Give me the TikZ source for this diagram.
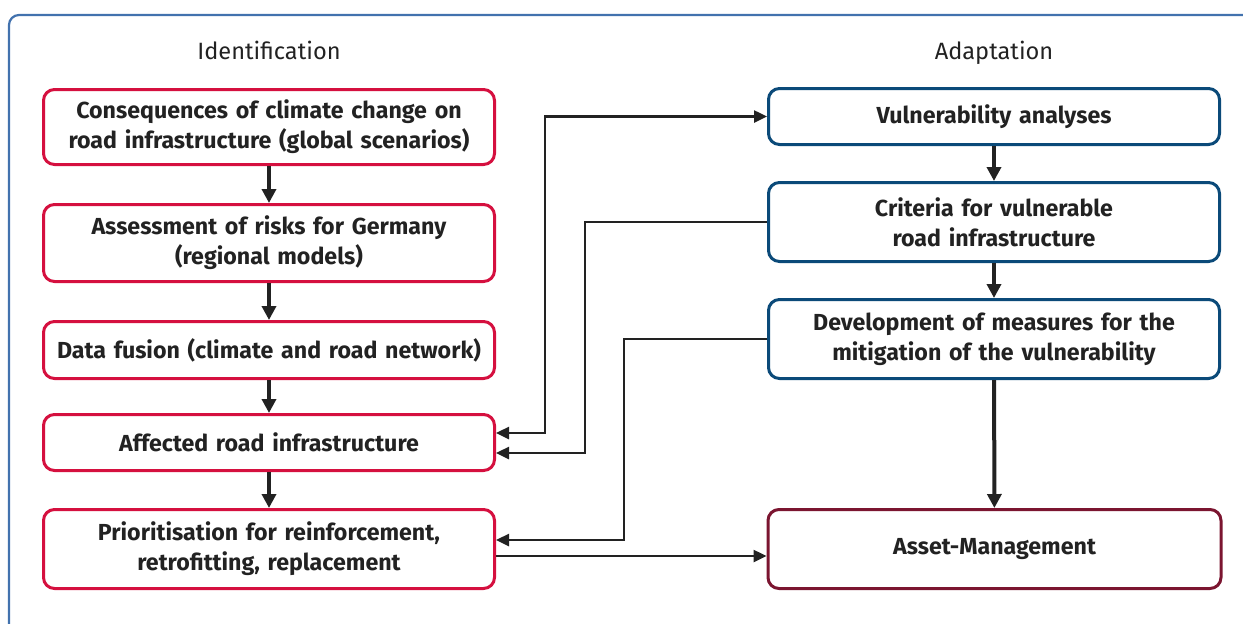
\documentclass[tikz,border=0pt]{standalone}
\usepackage{fontspec}
\setmainfont{Fira Sans}
\usetikzlibrary{arrows.meta}
\definecolor{FlowRed}{HTML}{D5103F}
\definecolor{FlowBlue}{HTML}{0B4A79}
\definecolor{FlowWine}{HTML}{7B1530}
\definecolor{FlowFrame}{HTML}{4272AE}
\definecolor{FlowInk}{HTML}{222222}
\tikzset{
    flow/diagram/.style={
        x=0.5pt, y=-0.5pt,
        text=FlowInk,
        line join=miter,
        every node/.style={inner sep=2pt}
    },
    flow/frame/.style={draw=FlowFrame, line width=1.1pt, rounded corners=5pt},
    flow/heading/.style={anchor=base, font=\fontsize{11.8}{13}\selectfont},
    flow/stage/.style={
        draw, fill=white, line width=1.5pt, rounded corners=5.5pt,
        minimum width=225.5pt, text width=220pt, align=center,
        font=\fontsize{11.6}{15}\selectfont\bfseries
    },
    flow/ident/.style={flow/stage, draw=FlowRed},
    flow/adapt/.style={flow/stage, draw=FlowBlue},
    flow/asset/.style={flow/stage, draw=FlowWine},
    flow/next/.style={
        draw=FlowInk, line width=2pt,
        -{Triangle[length=7pt, width=7pt]}
    },
    flow/link/.style={
        draw=FlowInk, line width=1.25pt,
        -{Triangle[length=6.5pt, width=6pt]}
    },
    flow/twoway/.style={
        flow/link,
        {Triangle[length=6.5pt, width=6pt]}-{Triangle[length=6.5pt, width=6pt]}
    }
}
\begin{document}
\begin{tikzpicture}[flow/diagram]
    \useasboundingbox (0,0) rectangle (1243,623);
    \begin{scope}
        \clip (0,0) rectangle (1243,623);
        \draw[flow/frame] (9,15) rectangle (1270,650);
    \end{scope}

    \node[flow/heading] (identHead) at (269,59) {Identification};
    \node[flow/heading] (adaptHead) at (994,59) {Adaptation};

    \node[flow/ident, minimum height=37.5pt] (conseq) at (269,127)
        {Consequences of climate change on\\road infrastructure (global scenarios)};
    \node[flow/ident, minimum height=38.5pt] (risks) at (269,243)
        {Assessment of risks for Germany\\(regional models)};
    \node[flow/ident, minimum height=28.5pt] (fusion) at (269,350)
        {Data fusion (climate and road network)};
    \node[flow/ident, minimum height=28pt] (affected) at (269,442.5)
        {Affected road infrastructure};
    \node[flow/ident, minimum height=39.5pt] (prior) at (269,549)
        {Prioritisation for reinforcement,\\retrofitting, replacement};

    \node[flow/adapt, minimum height=28pt] (vuln) at (994,116.5)
        {Vulnerability analyses};
    \node[flow/adapt, minimum height=39.5pt] (criteria) at (994,222)
        {Criteria for vulnerable\\road infrastructure};
    \node[flow/adapt, minimum height=39.5pt] (measures) at (994,339)
        {Development of measures for the\\mitigation of the vulnerability};
    \node[flow/asset, minimum height=39.5pt, minimum width=226.5pt] (asset) at (994.5,549)
        {Asset-Management};

    \draw[flow/next] (conseq) -- (risks);
    \draw[flow/next] (risks) -- (fusion);
    \draw[flow/next] (fusion) -- (affected);
    \draw[flow/next] (affected) -- (prior);
    \draw[flow/next] (vuln) -- (criteria);
    \draw[flow/next] (criteria) -- (measures);
    \draw[flow/next] (measures) -- (asset);

    \coordinate (busA) at (545,0);
    \coordinate (busB) at (585,0);
    \coordinate (busC) at (624,0);
    \coordinate (affectedA) at ([yshift=4.75pt]affected.east);
    \coordinate (affectedB) at ([yshift=-5.25pt]affected.east);
    \coordinate (priorIn) at ([yshift=4.5pt]prior.east);
    \coordinate (priorOut) at ([yshift=-3.5pt]prior.east);

    \draw[flow/twoway] (affectedA) -| (busA |- vuln.west) -- (vuln.west);
    \draw[flow/link] (criteria.west) -| (busB |- affectedB) -- (affectedB);
    \draw[flow/link] (measures.west) -| (busC |- priorIn) -- (priorIn);
    \draw[flow/link] (priorOut) -- (priorOut -| asset.west);
\end{tikzpicture}
\end{document}
